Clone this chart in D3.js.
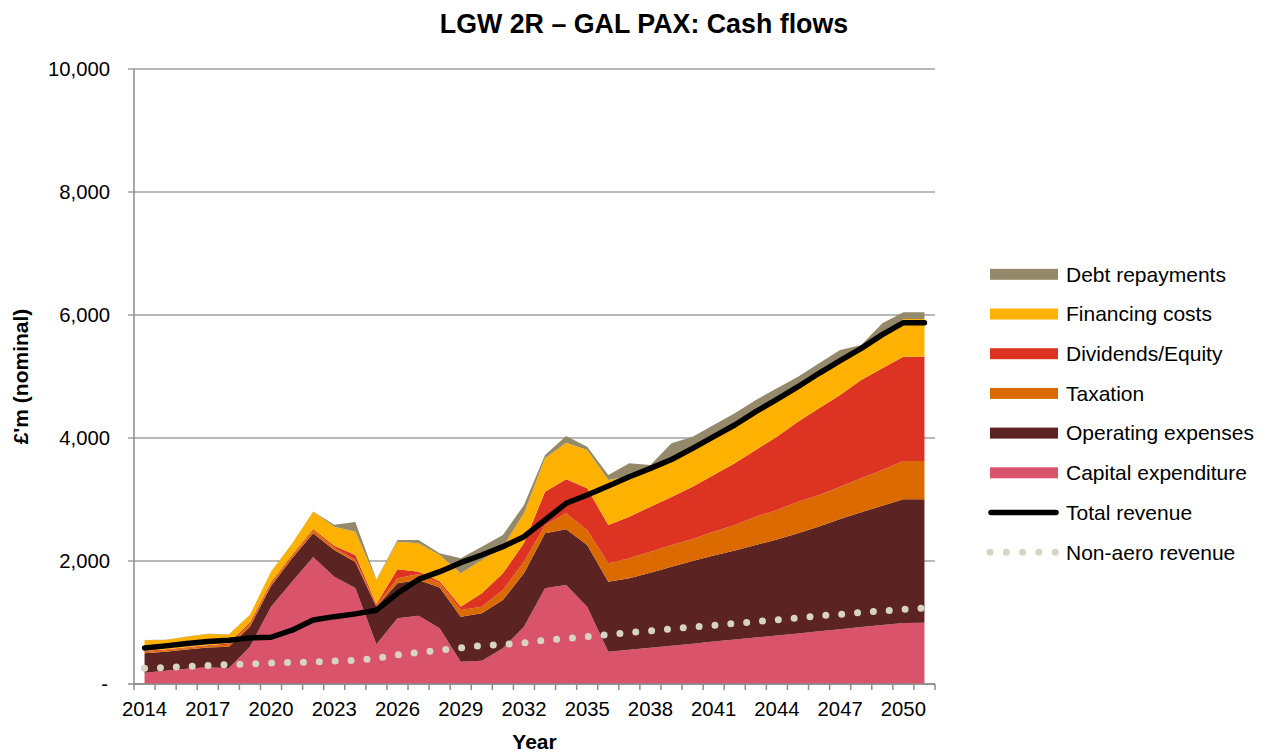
<!DOCTYPE html>
<html><head><meta charset="utf-8">
<script src="https://cdn.jsdelivr.net/npm/d3@7"></script>
<style>
body{margin:0;background:#fff;}
text{font-family:"Liberation Sans",Arial,Helvetica,sans-serif;fill:#000;}
</style>
</head><body>
<svg id="chart" width="1265" height="754"></svg>
<script>
const years = [2014,2015,2016,2017,2018,2019,2020,2021,2022,2023,2024,2025,2026,2027,2028,2029,2030,2031,2032,2033,2034,2035,2036,2037,2038,2039,2040,2041,2042,2043,2044,2045,2046,2047,2048,2049,2050,2051];
const xTickLabels = [2014,2017,2020,2023,2026,2029,2032,2035,2038,2041,2044,2047,2050];
const yTickValues = [0,2000,4000,6000,8000,10000];

const capitalExpenditure = [184,217,249,271,255,607,1257,1664,2065,1745,1560,645,1068,1111,905,363,380,580,932,1556,1610,1257,525,555,590,622,655,690,722,756,790,822,857,890,925,958,990,995];
const operatingExpenses = [315,308,311,324,352,325,336,379,385,435,425,612,569,580,665,732,769,786,868,894,905,1003,1139,1163,1220,1285,1345,1400,1448,1504,1560,1628,1703,1793,1867,1942,2013,2008];
const taxation = [26,25,25,23,33,43,37,37,50,35,31,23,81,99,70,108,108,162,189,135,260,244,298,325,341,353,358,387,415,460,479,514,513,526,553,580,623,623];
const dividendsEquity = [15,12,12,12,22,30,25,20,20,35,82,20,147,36,30,54,218,272,299,542,553,678,623,677,732,780,851,921,1003,1085,1192,1301,1410,1490,1598,1653,1696,1696];
const financingCosts = [172,153,173,185,143,117,171,180,280,308,379,391,449,462,428,543,541,433,487,543,596,623,732,660,617,610,621,622,622,620,604,565,567,556,512,547,613,613];
const debtRepayments = [3,3,3,3,3,3,4,5,5,32,158,9,27,53,27,243,217,190,135,53,108,54,83,208,61,264,191,191,192,193,183,167,165,176,57,185,109,109];
const totalRevenue = [585,620,660,690,710,750,760,875,1040,1095,1140,1200,1475,1700,1826,1973,2098,2233,2396,2667,2938,3073,3219,3371,3507,3650,3832,4021,4211,4428,4629,4834,5052,5257,5458,5680,5875,5875];
const nonAeroRevenue = [255,268,285,301,317,327,341,350,359,374,382,420,472,515,550,589,623,644,667,712,737,770,805,835,865,897,925,955,984,1014,1043,1075,1110,1133,1162,1188,1212,1235];

const seriesNames = ["Capital expenditure","Operating expenses","Taxation","Dividends/Equity","Financing costs","Debt repayments"];
const seriesColors = ["#d9536b","#5b2422","#db6a00","#dd3322","#ffb100","#948a6b"];
const seriesData = [capitalExpenditure,operatingExpenses,taxation,dividendsEquity,financingCosts,debtRepayments];

const rows = years.map((yr,i)=>{
  const r = {year:yr};
  seriesNames.forEach((n,k)=>{ r[n] = seriesData[k][i]; });
  return r;
});

const svg = d3.select("#chart");
const plotLeft = 134, plotRight = 935, plotTop = 69, plotBottom = 684;

const xBand = d3.scaleBand().domain(years).range([plotLeft,plotRight]).paddingInner(0).paddingOuter(0);
const xPos = d => xBand(d) + xBand.bandwidth()/2;
const yScale = d3.scaleLinear().domain([0,10000]).range([plotBottom,plotTop]);

// gridlines
svg.append("g").selectAll("line").data(yTickValues).join("line")
  .attr("x1",plotLeft-6).attr("x2",plotRight)
  .attr("y1",d=>yScale(d)).attr("y2",d=>yScale(d))
  .attr("stroke",d=>d===0?"#8c8c8c":"#a0a0a0").attr("stroke-width",1.5);

// stacked areas
const stack = d3.stack().keys(seriesNames);
const layers = stack(rows);
const area = d3.area()
  .x(d=>xPos(d.data.year))
  .y0(d=>yScale(d[0]))
  .y1(d=>yScale(d[1]));
svg.append("g").selectAll("path").data(layers).join("path")
  .attr("d",area)
  .attr("fill",(d,i)=>seriesColors[i]);

// axis lines
svg.append("line").attr("x1",plotLeft).attr("x2",plotLeft).attr("y1",plotTop).attr("y2",plotBottom)
  .attr("stroke","#8c8c8c").attr("stroke-width",1.5);
svg.append("line").attr("x1",plotLeft).attr("x2",plotRight).attr("y1",plotBottom).attr("y2",plotBottom)
  .attr("stroke","#8c8c8c").attr("stroke-width",1.5);

// x tick marks at category boundaries
const boundaries = years.map(d=>xBand(d)).concat([xBand(years[years.length-1])+xBand.bandwidth()]);
svg.append("g").selectAll("line").data(boundaries).join("line")
  .attr("x1",d=>d).attr("x2",d=>d).attr("y1",plotBottom).attr("y2",plotBottom+6)
  .attr("stroke","#8c8c8c").attr("stroke-width",1.5);

// x tick labels
svg.append("g").selectAll("text").data(xTickLabels).join("text")
  .attr("x",d=>xPos(d)).attr("y",plotBottom+32)
  .attr("text-anchor","middle").style("font-size","20.3px")
  .text(d=>d);

// y tick labels
svg.append("g").selectAll("text").data(yTickValues).join("text")
  .attr("x",d=>d===0?108:110).attr("y",d=>yScale(d)).attr("dy","0.35em")
  .attr("text-anchor","end").style("font-size","20.3px")
  .text(d=>d===0?"-":d3.format(",")(d));

// lines
const lineOf = (arr)=>d3.line().x((d,i)=>xPos(years[i])).y(d=>yScale(d))(arr);
svg.append("path").attr("d",lineOf(nonAeroRevenue))
  .attr("fill","none").attr("stroke","#d7d3c5").attr("stroke-width",7)
  .attr("stroke-linecap","round").attr("stroke-dasharray","0 15.9");
svg.append("path").attr("d",lineOf(totalRevenue))
  .attr("fill","none").attr("stroke","#000").attr("stroke-width",5.5)
  .attr("stroke-linecap","round").attr("stroke-linejoin","round");

// title
svg.append("text").attr("x",644).attr("y",33).attr("text-anchor","middle")
  .style("font-size","26.8px").style("font-weight","bold")
  .text("LGW 2R \u2013 GAL PAX: Cash flows");
// axis titles
svg.append("text").attr("x",(plotLeft+plotRight)/2).attr("y",749).attr("text-anchor","middle")
  .style("font-size","21px").style("font-weight","bold").text("Year");
svg.append("text").attr("transform",`translate(28,${(plotTop+plotBottom)/2}) rotate(-90)`)
  .attr("text-anchor","middle")
  .style("font-size","21px").style("font-weight","bold").text("\u00a3'm (nominal)");

// legend
const legendItems = [
  {name:"Debt repayments", type:"area", color:seriesColors[5]},
  {name:"Financing costs", type:"area", color:seriesColors[4]},
  {name:"Dividends/Equity", type:"area", color:seriesColors[3]},
  {name:"Taxation", type:"area", color:seriesColors[2]},
  {name:"Operating expenses", type:"area", color:seriesColors[1]},
  {name:"Capital expenditure", type:"area", color:seriesColors[0]},
  {name:"Total revenue", type:"line", color:"#000"},
  {name:"Non-aero revenue", type:"dots", color:"#d7d3c5"}
];
const lg = svg.append("g");
legendItems.forEach((it,i)=>{
  const cy = 274.3 + i*39.7;
  if(it.type==="area"){
    lg.append("rect").attr("x",990).attr("y",cy-5.5).attr("width",68).attr("height",11).attr("fill",it.color);
  } else if(it.type==="line"){
    lg.append("line").attr("x1",991).attr("x2",1056).attr("y1",cy).attr("y2",cy)
      .attr("stroke","#000").attr("stroke-width",5.5).attr("stroke-linecap","round");
  } else {
    lg.append("line").attr("x1",990).attr("x2",1056).attr("y1",cy).attr("y2",cy)
      .attr("stroke",it.color).attr("stroke-width",7).attr("stroke-linecap","round")
      .attr("stroke-dasharray","0 16.3");
  }
  lg.append("text").attr("x",1066).attr("y",cy).attr("dy","0.35em")
    .style("font-size","21px").text(it.name);
});
</script>
</body></html>
